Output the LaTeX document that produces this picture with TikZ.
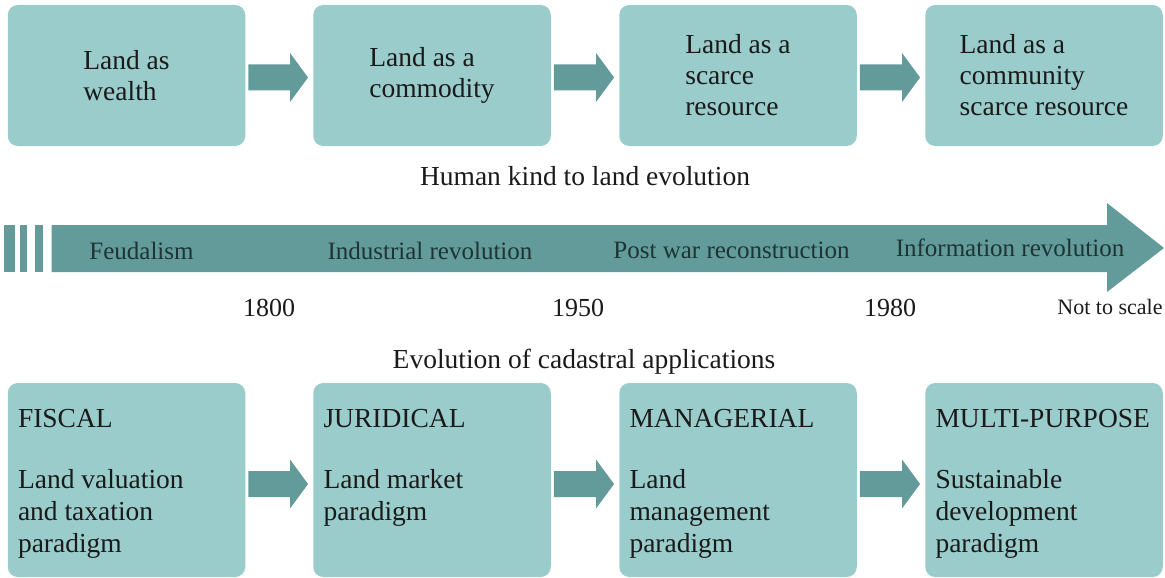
\documentclass[tikz,border=0pt]{standalone}
\usepackage{fontspec}
\setmainfont{Liberation Serif}
\usetikzlibrary{calc}
\definecolor{boxc}{HTML}{9BCCCC}
\definecolor{arrc}{HTML}{639B9B}
\definecolor{txtc}{HTML}{1A1A1A}
\definecolor{tlc}{HTML}{1C3434}
\newcommand\blockarr[3]{%
  \coordinate (ba-s) at ($(#1.east)+(3,#3)$);
  \coordinate (ba-e) at ($(#1.east -| #2.west)+(-5,#3)$);
  \fill[arrowfill] ($(ba-s)+(0,-13)$) -- ($(ba-e)+(-18,-13)$) -- ($(ba-e)+(-18,-24.5)$)
    -- (ba-e) -- ($(ba-e)+(-18,24.5)$) -- ($(ba-e)+(-18,13)$) -- ($(ba-s)+(0,13)$) -- cycle;}
\begin{document}
\begin{tikzpicture}[x=1pt,y=-1pt,
  topbox/.style={fill=boxc, rounded corners=10pt, minimum width=237.5pt, minimum height=141pt,
    inner sep=0pt, align=left, text=txtc, font=\fontsize{27.5}{31}\selectfont},
  botbox/.style={fill=boxc, rounded corners=10pt, minimum width=237.5pt, minimum height=194pt,
    inner sep=0pt, text=txtc, font=\fontsize{27.5}{32}\selectfont},
  caption/.style={anchor=base, text=txtc, font=\fontsize{27.5}{32}\selectfont, inner sep=0pt},
  tllabel/.style={anchor=base, text=tlc, font=\fontsize{25}{30}\selectfont, inner sep=0pt},
  yearlabel/.style={anchor=base, text=txtc, font=\fontsize{26}{30}\selectfont, inner sep=0pt},
  arrowfill/.style={fill=arrc}]
\useasboundingbox (0,0) rectangle (1165,578);
% top row
\node[topbox] (t1) at (126.5,75.5) {Land as\\wealth};
\node[topbox] (t2) at (432,75.5) {Land as a\\commodity};
\node[topbox] (t3) at (738,75.5) {Land as a\\scarce\\resource};
\node[topbox] (t4) at (1044,75.5) {Land as a\\community\\scarce resource};
\blockarr{t1}{t2}{2}
\blockarr{t2}{t3}{2}
\blockarr{t3}{t4}{2}
\node[caption] (cap1) at (585,185) {Human kind to land evolution};
% timeline
\fill[arrowfill] (4,225) rectangle (15,272);
\fill[arrowfill] (19.5,225) rectangle (27,272);
\fill[arrowfill] (35,225) rectangle (42.5,272);
\fill[arrowfill] (51.5,225) -- (1107,225) -- (1107,203) -- (1164,248) -- (1107,292)
  -- (1107,272) -- (51.5,272) -- cycle;
\node[tllabel] (l1) at (141.5,259) {Feudalism};
\node[tllabel] (l2) at (430,259) {Industrial revolution};
\node[tllabel] (l3) at (731.5,258) {Post war reconstruction};
\node[tllabel] (l4) at (1010,256) {Information revolution};
\node[yearlabel] (y1) at (269,316) {1800};
\node[yearlabel] (y2) at (578,316) {1950};
\node[yearlabel] (y3) at (890,316) {1980};
\node[anchor=base, text=txtc, font=\fontsize{22}{26}\selectfont, inner sep=0pt] (nts) at (1110,314) {Not to scale};
\node[caption] (cap2) at (584,368) {Evolution of cadastral applications};
% bottom row
\node[botbox] (b1) at (126.5,480) {\parbox[c][142pt][t]{217pt}{\raggedright FISCAL\\[29pt]Land valuation\\and taxation\\paradigm}};
\node[botbox] (b2) at (432,480) {\parbox[c][142pt][t]{217pt}{\raggedright JURIDICAL\\[29pt]Land market\\paradigm}};
\node[botbox] (b3) at (738,480) {\parbox[c][142pt][t]{217pt}{\raggedright MANAGERIAL\\[29pt]Land\\management\\paradigm}};
\node[botbox] (b4) at (1044,480) {\parbox[c][142pt][t]{217pt}{\raggedright MULTI-PURPOSE\\[29pt]Sustainable\\development\\paradigm}};
\blockarr{b1}{b2}{4}
\blockarr{b2}{b3}{4}
\blockarr{b3}{b4}{4}
\end{tikzpicture}
\end{document}
